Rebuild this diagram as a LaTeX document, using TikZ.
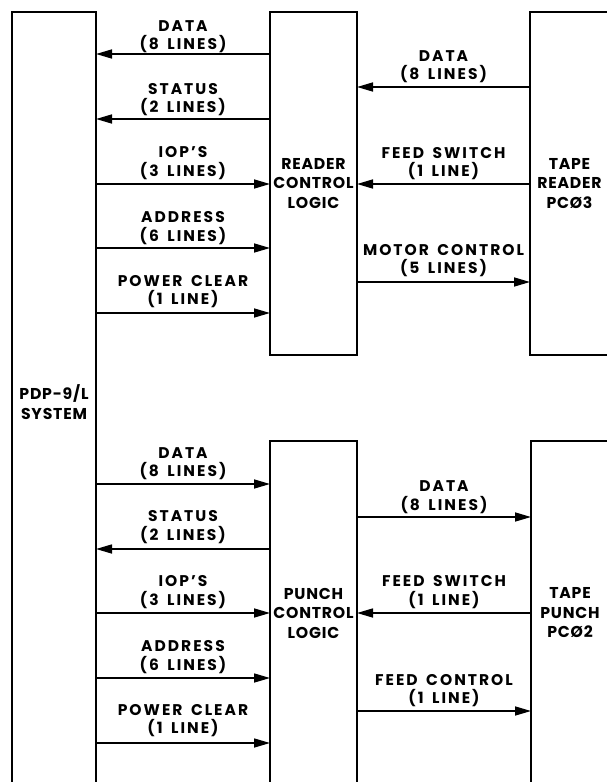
\documentclass[tikz,border=0pt]{standalone}
\usepackage{fontspec}
\setmainfont{Poppins}[LetterSpace=13,WordSpace=1.6]
\newfontfamily\boxfam{Poppins}[LetterSpace=5]
\usetikzlibrary{arrows.meta}
\newcommand\lett{\fontsize{15.5}{18.5}\selectfont\bfseries}
\newcommand\boxlett{\boxfam\fontsize{15.7}{19.5}\selectfont\bfseries}
\begin{document}
\begin{tikzpicture}[x=1pt,y=-1pt,
  box/.style={draw, line width=2.4pt, rectangle, inner sep=0pt, outer sep=0pt, align=center, font=\boxlett},
  sig/.style={line width=1.6pt, -{Triangle[length=16pt,width=9pt]}},
  lbl/.style={font=\lett, align=center, inner sep=0pt, anchor=center, yshift=#1},
  lbl/.default=21pt]
\useasboundingbox (0,0) rectangle (607,782);
\clip (0,0) rectangle (607,782);
% boxes
\node[box, minimum width=84pt, minimum height=780pt] (pdp) at (54,402) {PDP-9/L\\SYSTEM};
\node[box, minimum width=87pt, minimum height=343pt] (rcl) at (313.5,183.5) {READER\\CONTROL\\LOGIC};
\node[box, minimum width=79pt, minimum height=343pt] (tr) at (569.5,183.5) {TAPE\\READER\\PCØ3};
\node[box, minimum width=87pt, minimum height=344pt] (pcl) at (313.5,613) {PUNCH\\CONTROL\\LOGIC};
\node[box, minimum width=78pt, minimum height=344pt] (tp) at (570,613) {TAPE\\PUNCH\\PCØ2};
% upper left
\draw[sig] (rcl.west |- 0,54) -- node[lbl=17.5pt]{DATA\\(8 LINES)} (pdp.east |- 0,54);
\draw[sig] (rcl.west |- 0,119) -- node[lbl=19.5pt]{STATUS\\(2 LINES)} (pdp.east |- 0,119);
\draw[sig] (pdp.east |- 0,184) -- node[lbl=21pt]{IOP'S\\(3 LINES)} (rcl.west |- 0,184);
\draw[sig] (pdp.east |- 0,248) -- node[lbl=20pt]{ADDRESS\\(6 LINES)} (rcl.west |- 0,248);
\draw[sig] (pdp.east |- 0,313) -- node[lbl=21.5pt]{POWER CLEAR\\(1 LINE)} (rcl.west |- 0,313);
% upper right
\draw[sig] (tr.west |- 0,87) -- node[lbl=20.5pt]{DATA\\(8 LINES)} (rcl.east |- 0,87);
\draw[sig] (tr.west |- 0,184) -- node[lbl=20.5pt]{FEED SWITCH\\(1 LINE)} (rcl.east |- 0,184);
\draw[sig] (rcl.east |- 0,282) -- node[lbl=21.5pt]{MOTOR CONTROL\\(5 LINES)} (tr.west |- 0,282);
% lower left
\draw[sig] (pdp.east |- 0,484) -- node[lbl=20.5pt]{DATA\\(8 LINES)} (pcl.west |- 0,484);
\draw[sig] (pcl.west |- 0,549) -- node[lbl=22pt]{STATUS\\(2 LINES)} (pdp.east |- 0,549);
\draw[sig] (pdp.east |- 0,613) -- node[lbl=21pt]{IOP'S\\(3 LINES)} (pcl.west |- 0,613);
\draw[sig] (pdp.east |- 0,678) -- node[lbl=21pt]{ADDRESS\\(6 LINES)} (pcl.west |- 0,678);
\draw[sig] (pdp.east |- 0,743) -- node[lbl=22.5pt]{POWER CLEAR\\(1 LINE)} (pcl.west |- 0,743);
% lower right
\draw[sig] (pcl.east |- 0,517) -- node[lbl=20pt]{DATA\\(8 LINES)} (tp.west |- 0,517);
\draw[sig] (tp.west |- 0,613) -- node[lbl=21pt]{FEED SWITCH\\(1 LINE)} (pcl.east |- 0,613);
\draw[sig] (pcl.east |- 0,711) -- node[lbl=20.5pt]{FEED CONTROL\\(1 LINE)} (tp.west |- 0,711);
\end{tikzpicture}
\end{document}
